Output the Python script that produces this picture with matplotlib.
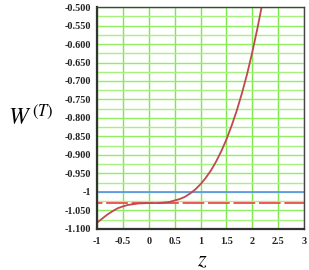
import matplotlib
matplotlib.use("Agg")
import matplotlib.pyplot as plt
from matplotlib.ticker import MultipleLocator, FixedLocator

# values
z_curve = [-1.0, -0.9, -0.8, -0.7, -0.6, -0.5, -0.4, -0.3, -0.2, 0.0, 0.2, 0.4,
           0.6, 0.7, 0.8, 0.9, 1.0, 1.1, 1.2, 1.3, 1.4, 1.5, 1.6, 1.7, 1.8,
           1.9, 2.0, 2.1, 2.18]
w_curve = [-1.083, -1.072, -1.061, -1.052, -1.044, -1.039, -1.035, -1.033, -1.031,
           -1.030, -1.030, -1.027, -1.019, -1.013, -1.004, -0.993, -0.979, -0.962,
           -0.942, -0.918, -0.890, -0.858, -0.821, -0.780, -0.733, -0.681, -0.622,
           -0.557, -0.500]
w_blue = -1.0
w_dashed = -1.03

x_ticks = [-1, -0.5, 0, 0.5, 1, 1.5, 2, 2.5, 3]
x_labels = ["-1", "-0.5", "0", "0.5", "1", "1.5", "2", "2.5", "3"]
y_ticks = [-0.5, -0.55, -0.6, -0.65, -0.7, -0.75, -0.8, -0.85, -0.9, -0.95, -1.0, -1.05, -1.1]
y_labels = ["-0.500", "-0.550", "-0.600", "-0.650", "-0.700", "-0.750", "-0.800",
            "-0.850", "-0.900", "-0.950", "-1", "-1.050", "-1.100"]

plt.rcParams["mathtext.fontset"] = "stix"

fig = plt.figure(figsize=(3.09, 2.70), dpi=100)
ax = fig.add_axes([0.314, 0.152, 0.67, 0.822])

ax.set_xlim(-1, 3)
ax.set_ylim(-1.1, -0.5)

# grid
ax.xaxis.set_major_locator(FixedLocator([-1, 0, 1, 2, 3]))
ax.xaxis.set_minor_locator(FixedLocator([-0.5, 0.5, 1.5, 2.5]))
ax.yaxis.set_major_locator(MultipleLocator(0.05))
ax.yaxis.set_minor_locator(MultipleLocator(0.025))
ax.grid(which="major", axis="x", color="#7ee84a", lw=1.0)
ax.grid(which="minor", axis="x", color="#c4f5a8", lw=1.0)
ax.grid(which="major", axis="y", color="#8ef060", lw=1.0)
ax.grid(which="minor", axis="y", color="#a6f27e", lw=1.0)
ax.set_axisbelow(True)

ax.axhline(w_blue, color="#5b8ef5", lw=1.2)
ax.axhline(w_dashed, color="#ee4b4b", lw=1.3, linestyle=(9, (12, 2.1)))
ax.plot(z_curve, w_curve, color="#c0484f", lw=1.3)

ax.set_xticks(x_ticks)
ax.set_xticklabels(x_labels)
ax.set_yticks(y_ticks)
ax.set_yticklabels(y_labels)
ax.tick_params(which="both", length=0)
ax.tick_params(axis="y", pad=4)
ax.tick_params(axis="x", pad=6)
for lab in ax.get_xticklabels() + ax.get_yticklabels():
    lab.set_fontfamily("Liberation Serif")
    lab.set_fontweight("bold")
    lab.set_fontsize(7.3)
    lab.set_color("#222222")

for side in ["left", "bottom"]:
    ax.spines[side].set_linewidth(1.6)
    ax.spines[side].set_color("#333333")
for side in ["top", "right"]:
    ax.spines[side].set_linewidth(1.0)
    ax.spines[side].set_color("#444444")

fig.text(0.1, 0.565, r"$W^{\,(T)}$", fontsize=17, ha="center", va="center")
fig.text(0.655, 0.035, r"$z$", fontsize=16, ha="center", va="center")

fig.savefig("out.png", dpi=100)
